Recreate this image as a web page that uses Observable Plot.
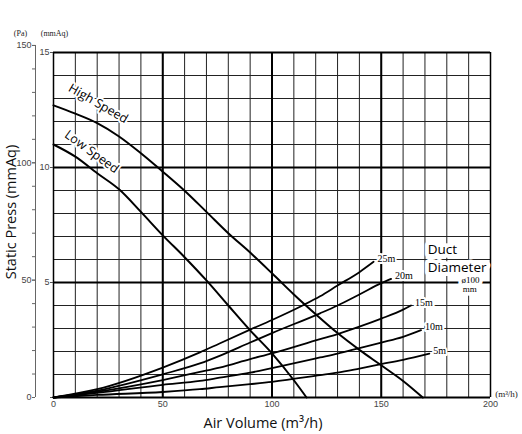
<!DOCTYPE html>
<html lang="en">
<head>
<meta charset="UTF-8">
<title>Static Press vs Air Volume</title>
<style>
  body { margin: 0; padding: 0; background: white; }
  #chart svg { display: block; }
</style>
<script src="https://cdn.jsdelivr.net/npm/d3@7"></script>
<script src="https://cdn.jsdelivr.net/npm/@observablehq/plot@0.6"></script>
</head>
<body>
<div id="chart"></div>
<script>
// fan curves (m3/h -> mmAq)
const airVolHigh = [0, 10, 20, 30, 40, 50, 60, 70, 80, 90, 100, 110, 120, 130, 140, 150, 160, 169];
const pressHigh  = [12.7, 12.34, 11.93, 11.35, 10.62, 9.82, 8.99, 8.07, 7.14, 6.3, 5.4, 4.48, 3.62, 2.8, 2.07, 1.4, 0.72, 0];

const airVolLow = [0, 10, 20, 30, 40, 50, 60, 70, 80, 90, 100, 110, 115.8];
const pressLow  = [11.0, 10.47, 9.75, 9.05, 8.07, 7.05, 6.1, 5.09, 4.0, 2.92, 1.92, 0.75, 0];

// duct resistance curves, duct diameter 100 mm
const ductLabels = ["25m", "20m", "15m", "10m", "5m"];
const airVol25 = [0, 20, 50, 67, 76, 90, 100, 114, 122, 130, 140, 146.5];
const press25  = [0, 0.36, 1.30, 1.96, 2.35, 2.95, 3.37, 4.0, 4.4, 4.87, 5.45, 5.9];
const airVol20 = [0, 20, 50, 67, 76, 90, 100, 122, 130, 140, 150, 154.5];
const press20  = [0, 0.3, 1.01, 1.48, 1.81, 2.39, 2.8, 3.66, 4.0, 4.48, 4.97, 5.16];
const airVol15 = [0, 20, 50, 67, 76, 90, 100, 122, 130, 140, 150, 160, 163.6];
const press15  = [0, 0.25, 0.76, 1.11, 1.30, 1.67, 1.92, 2.54, 2.76, 3.08, 3.43, 3.82, 4.0];
const airVol10 = [0, 20, 50, 67, 76, 90, 100, 122, 130, 140, 150, 160, 168.2];
const press10  = [0, 0.2, 0.55, 0.72, 0.86, 1.08, 1.28, 1.74, 1.91, 2.15, 2.39, 2.64, 2.93];
const airVol5  = [0, 20, 50, 67, 76, 90, 100, 122, 130, 140, 150, 160, 172];
const press5   = [0, 0.11, 0.24, 0.36, 0.45, 0.58, 0.68, 0.97, 1.08, 1.26, 1.45, 1.64, 1.91];

// axes
const xTicks = [0, 50, 100, 150, 200];
const mmTicks = [5, 10, 15];
const paTicks = [0, 50, 100, 150];
const PA_PER_MMAQ = 9.8;

const zip = (xs, ys, name) => xs.map((x, i) => ({x, y: ys[i], name}));
const fans = [...zip(airVolHigh, pressHigh, "High"), ...zip(airVolLow, pressLow, "Low")];
const ductX = [airVol25, airVol20, airVol15, airVol10, airVol5];
const ductY = [press25, press20, press15, press10, press5];
const ducts = ductLabels.flatMap((d, i) => zip(ductX[i], ductY[i], d));
const ductEnds = ductLabels.map((d, i) => ({x: ductX[i].at(-1), y: ductY[i].at(-1), name: d}));

const serif = "Liberation Serif, Times New Roman, serif";
const sans = "Open Sans, sans-serif";
const halo = w => ({fill: "#000", stroke: "white", strokeWidth: w, paintOrder: "stroke"});

const chart = Plot.plot({
  width: 522,
  height: 434,
  marginLeft: 53,
  marginRight: 32,
  marginTop: 52,
  marginBottom: 37,
  x: {domain: [0, 200]},
  y: {domain: [0, 15]},
  style: {fontFamily: "Liberation Sans, Arial, sans-serif", background: "white"},
  marks: [
    // grid
    Plot.ruleX(d3.range(10, 200, 10), {stroke: "#222", strokeWidth: 1}),
    Plot.ruleY(d3.range(1, 15, 1), {stroke: "#222", strokeWidth: 1}),
    Plot.ruleX([50, 100, 150], {stroke: "#000", strokeWidth: 2}),
    Plot.ruleY([5, 10], {stroke: "#000", strokeWidth: 2}),
    Plot.ruleY([0, 15], {stroke: "#000", strokeWidth: 2}),
    Plot.ruleX([0, 200], {stroke: "#000", strokeWidth: 1.5}),

    // axes
    Plot.axisX(xTicks, {tickSize: 0, tickPadding: 3, fontSize: 9, fill: "#444", label: null}),
    Plot.axisY([0, ...mmTicks], {anchor: "left", tickSize: 3, text: null, stroke: "#555", label: null}),
    Plot.axisY(mmTicks, {anchor: "left", tickSize: 3, tickPadding: 1, fontSize: 9, fill: "#444", stroke: "#555", label: null}),
    Plot.ruleX([0], {y1: 0, y2: 150 / PA_PER_MMAQ, dx: -18, stroke: "#666"}),
    Plot.axisY(d3.range(0, 151, 10).map(p => p / PA_PER_MMAQ), {anchor: "left", dx: -18, tickSize: 3, text: null, stroke: "#666", label: null}),
    Plot.axisY(paTicks.map(p => p / PA_PER_MMAQ), {
      anchor: "left", dx: -18, tickSize: 3, tickPadding: 1, fontSize: 9, fill: "#444", stroke: "#666",
      tickFormat: d => Math.round(d * PA_PER_MMAQ), label: null
    }),

    // curves
    Plot.line(ducts, {x: "x", y: "y", z: "name", stroke: "#000", strokeWidth: 1.8, curve: "monotone-x"}),
    Plot.line(fans, {x: "x", y: "y", z: "name", stroke: "#000", strokeWidth: 2, curve: "monotone-x"}),

    // labels
    Plot.text(ductEnds, {x: "x", y: "y", text: "name", textAnchor: "start", dx: 4, dy: -3,
      fontSize: 10, fontFamily: serif, ...halo(4)}),
    Plot.text(["High Speed"], {x: 20.5, y: 12.78, rotate: 30, fontSize: 12.5, fontFamily: sans, ...halo(4)}),
    Plot.text(["Low Speed"], {x: 17.5, y: 10.68, rotate: 36, fontSize: 12.5, fontFamily: sans, ...halo(4)}),
    Plot.text(["Duct"], {x: 171.3, y: 6.43, textAnchor: "start", fontSize: 13.5, fontFamily: sans, ...halo(8)}),
    Plot.text(["Diameter"], {x: 171.3, y: 5.65, textAnchor: "start", fontSize: 13.5, fontFamily: sans, ...halo(8)}),
    Plot.text(["ø100"], {x: 190.9, y: 5.12, fontSize: 9, fontFamily: serif, ...halo(7)}),
    Plot.text(["mm"], {x: 190.5, y: 4.72, fontSize: 9, fontFamily: serif, ...halo(7)}),

    // unit headers and axis titles
    Plot.text(["(Pa)"], {frameAnchor: "top-left", textAnchor: "middle", lineAnchor: "middle", dx: -33, dy: -19,
      fontSize: 8, fontFamily: serif, fill: "#222"}),
    Plot.text(["(mmAq)"], {frameAnchor: "top-left", textAnchor: "middle", lineAnchor: "middle", dx: 1, dy: -19,
      fontSize: 8, fontFamily: serif, fill: "#222"}),
    Plot.text(["(m³/h)"], {frameAnchor: "bottom-right", textAnchor: "middle", lineAnchor: "middle", dx: 16, dy: -3,
      fontSize: 9, fontFamily: serif, fill: "#222"}),
    Plot.text(["Air Volume (m³/h)"], {frameAnchor: "bottom", textAnchor: "middle", lineAnchor: "middle", dx: -9, dy: 26,
      fontSize: 14.5, fontFamily: sans, fill: "#111"}),
    Plot.text(["Static Press (mmAq)"], {frameAnchor: "left", textAnchor: "middle", lineAnchor: "middle", rotate: -90,
      dx: -42, dy: -13, fontSize: 14.5, fontFamily: sans, fill: "#111"})
  ]
});

document.querySelector("#chart").append(chart);
</script>
</body>
</html>
